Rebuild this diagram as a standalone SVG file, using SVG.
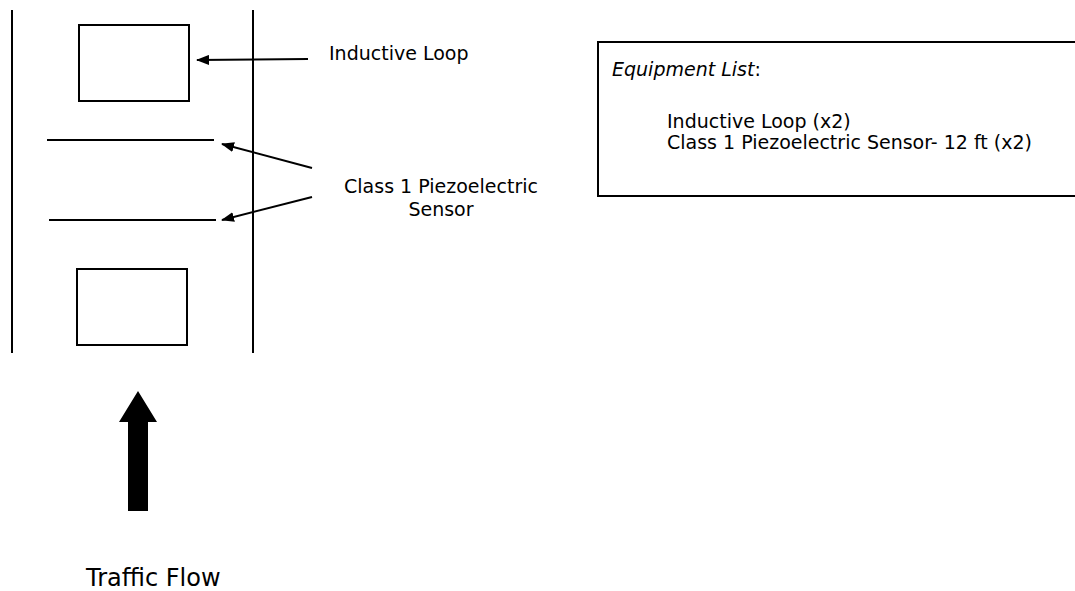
<svg xmlns="http://www.w3.org/2000/svg" width="1075" height="591" viewBox="0 0 1075 591">
<style>
.ln{stroke:#000;stroke-width:2;fill:none}
.t{font-family:"DejaVu Sans","Liberation Sans",sans-serif;fill:#000;font-size:19px}
</style>
<defs>
<marker id="ah" markerWidth="13" markerHeight="10" refX="12" refY="5" orient="auto" markerUnits="userSpaceOnUse">
<path d="M0,0 L13,5 L0,10 z" fill="#000"/>
</marker>
</defs>
<rect width="1075" height="591" fill="#fff"/>
<g id="road">
<line class="ln" x1="12" y1="10" x2="12" y2="353"/>
<line class="ln" x1="253" y1="10" x2="253" y2="353"/>
</g>
<g id="loop-top"><rect class="ln" x="79" y="25" width="110" height="76"/></g>
<g id="piezo-1"><line class="ln" x1="47" y1="140" x2="214" y2="140"/></g>
<g id="piezo-2"><line class="ln" x1="49" y1="220" x2="216" y2="220"/></g>
<g id="loop-bottom"><rect class="ln" x="77" y="269" width="110" height="76"/></g>
<g id="label-loop"><text class="t" x="329" y="60">Inductive Loop</text></g>
<g id="label-piezo"><text class="t" x="441" y="193" text-anchor="middle">Class 1 Piezoelectric</text><text class="t" x="441" y="216" text-anchor="middle">Sensor</text></g>
<g id="connectors">
<line class="ln" x1="308" y1="59" x2="197" y2="60" marker-end="url(#ah)"/>
<line class="ln" x1="312" y1="168" x2="222" y2="144" marker-end="url(#ah)"/>
<line class="ln" x1="312" y1="197" x2="222" y2="220" marker-end="url(#ah)"/>
</g>
<g id="equipment">
<rect x="598" y="42" width="490" height="154" fill="none" stroke="#000" stroke-width="2"/>
<text class="t" x="612" y="76" font-style="italic">Equipment List<tspan font-style="normal">:</tspan></text>
<text class="t" x="667" y="128">Inductive Loop (x2)</text>
<text class="t" x="667" y="149">Class 1 Piezoelectric Sensor- 12 ft (x2)</text>
</g>
<g id="traffic">
<path d="M138,391 L157,422 L148,422 L148,511 L128,511 L128,422 L119,422 Z" fill="#000"/>
<text class="t" x="86" y="586" style="font-size:24px">Traffic Flow</text>
</g>
</svg>
